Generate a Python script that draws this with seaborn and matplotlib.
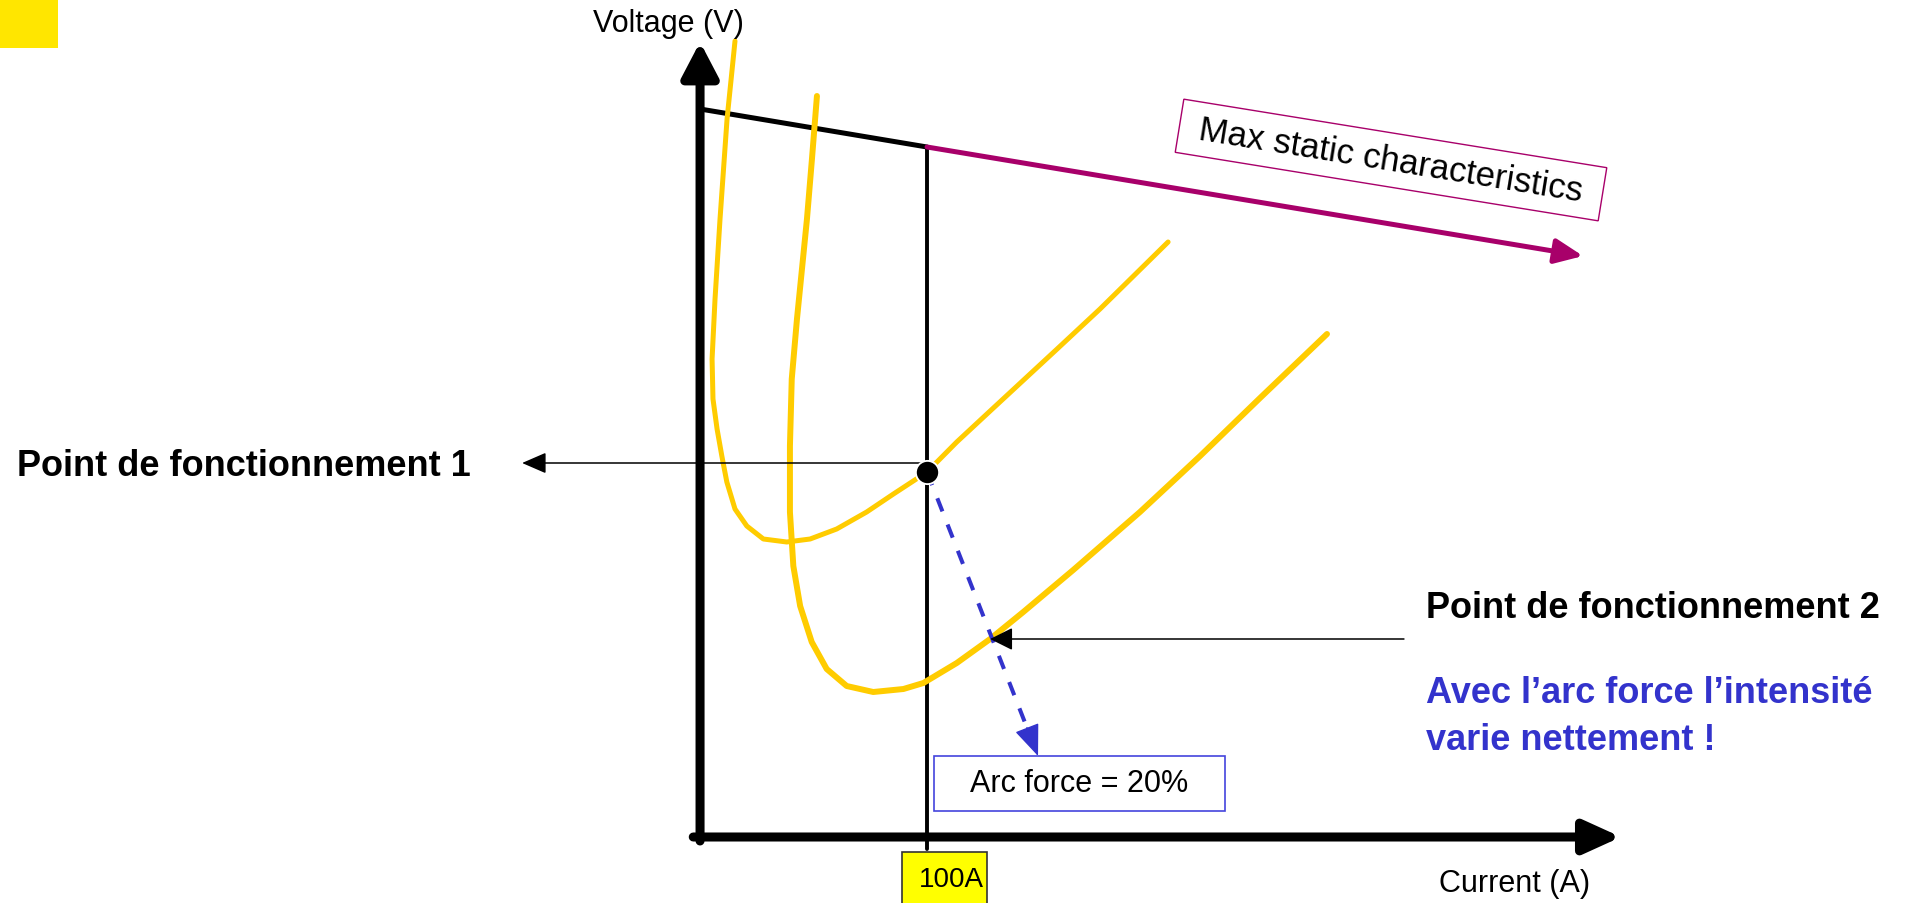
import numpy as np
import pandas as pd
import seaborn as sns
import matplotlib.pyplot as plt
from matplotlib.patches import Rectangle

# welding source characteristic (current in A, voltage in V)
curve1_current = [15.4, 13.7, 11.9, 8.8, 6.6, 5.3, 5.7, 7.5, 9.6, 11.8, 15.4, 20.6, 27.9, 38.2,
                  48.5, 60.2, 73.4, 85.2, 100.0, 113.1, 127.8, 145.4, 157.3, 176.2, 206.2]
curve1_voltage = [79.6, 75.8, 71.8, 61.8, 53.8, 47.8, 43.8, 40.8, 38.1, 35.5, 32.8, 31.1, 29.8,
                  29.5, 29.8, 30.8, 32.5, 34.3, 36.5, 39.5, 42.6, 46.3, 48.8, 52.8, 59.5]

curve2_current = [51.5, 49.3, 47.1, 42.7, 40.4, 39.6, 39.6, 41.1, 44.1, 49.2, 55.8, 64.6,
                  76.3, 89.6, 98.4, 113.1, 127.8, 142.4, 164.4, 193.8, 220.3, 246.7, 276.2]
curve2_voltage = [74.1, 67.8, 61.8, 51.8, 45.8, 39.1, 32.5, 27.1, 23.1, 19.5, 16.8, 15.1,
                  14.5, 14.8, 15.4, 17.4, 19.8, 22.5, 26.7, 32.5, 38.1, 43.9, 50.3]

static_current = [0.0, 100.0, 389.0]
static_voltage = [72.8, 69.0, 58.1]

point1 = (100.0, 36.5)
point2 = (127.8, 19.8)
arc_target = (148.9, 8.1)
set_current = 100.0

yellow = '#FFCC00'
magenta = '#A8006A'
blue = '#3333CC'

sns.set_style('white')
plt.rcParams['font.family'] = ['Liberation Sans', 'DejaVu Sans']
plt.rcParams['text.color'] = 'black'

fig = plt.figure(figsize=(19.14, 9.04), dpi=100)
ax = fig.add_axes([0, 0, 1, 1])
ax.set_xlim(-308.4, 534.8)
ax.set_ylim(-6.6, 83.8)
ax.axis('off')

# corner marker
ax.add_patch(Rectangle((0, 1 - 49 / 904), 58 / 1914, 49 / 904, transform=ax.transAxes,
                       facecolor='#FFE600', edgecolor='none'))

# axes arrows
ax.annotate('', xy=(0, 79.5), xytext=(0, -0.4),
            arrowprops=dict(arrowstyle='-|>,head_length=21,head_width=11', mutation_scale=1,
                            color='black', lw=6.5, shrinkA=0, shrinkB=0))
ax.annotate('', xy=(405.7, 0), xytext=(-3, 0),
            arrowprops=dict(arrowstyle='-|>,head_length=22,head_width=10', mutation_scale=1,
                            color='black', lw=6.5, shrinkA=0, shrinkB=0))
ax.text(-14.1, 81.4, 'Voltage (V)', fontsize=22, ha='center', va='center')
ax.text(359, -4.6, 'Current (A)', fontsize=22, ha='center', va='center')

# set current line
sns.lineplot(x=[set_current, set_current], y=[static_voltage[1], -1.2], estimator=None,
             color='black', linewidth=2.8, ax=ax)
ax.add_patch(Rectangle((89, -7), 37.4, 5.5, facecolor='#FFFF00', edgecolor='#333333',
                       lw=1.2, zorder=3))
ax.text(110.6, -4.2, '100A', fontsize=20, ha='center', va='center', zorder=4)

# max static characteristic
sns.lineplot(x=static_current[:2], y=static_voltage[:2], estimator=None, color='black',
             linewidth=3.6, ax=ax)
ax.annotate('', xy=(static_current[2], static_voltage[2]),
            xytext=(static_current[1], static_voltage[1]),
            arrowprops=dict(arrowstyle='-|>,head_length=17,head_width=7.5', mutation_scale=1,
                            color=magenta, lw=3.6, shrinkA=0, shrinkB=0))
ax.text(304.4, 67.7, ' Max static characteristics ', fontsize=25, rotation=-9.2,
        rotation_mode='anchor', ha='center', va='center',
        bbox=dict(boxstyle='square,pad=0.3', facecolor='white', edgecolor=magenta, lw=1.0))

# arc characteristics
sns.lineplot(x=curve1_current, y=curve1_voltage, sort=False, estimator=None, color=yellow,
             linewidth=3.6, ax=ax, solid_joinstyle='round')
sns.lineplot(x=curve2_current, y=curve2_voltage, sort=False, estimator=None, color=yellow,
             linewidth=4.3, ax=ax, solid_joinstyle='round')

# operating point 1
sns.scatterplot(x=[point1[0]], y=[point1[1]], color='black', s=280, ax=ax, zorder=5)
ax.annotate('', xy=(-78.4, 37.4), xytext=(point1[0], 37.4),
            arrowprops=dict(arrowstyle='-|>,head_length=15,head_width=6.5', mutation_scale=1,
                            color='black', lw=1.1, shrinkA=0, shrinkB=0))
ax.text(-300.9, 37.1, 'Point de fonctionnement 1', fontsize=26, fontweight='bold',
        ha='left', va='center')

# operating point 2
ax.annotate('', xy=point2, xytext=(310.1, point2[1]),
            arrowprops=dict(arrowstyle='-|>,head_length=14,head_width=7', mutation_scale=1,
                            color='black', lw=1.1, shrinkA=0, shrinkB=0))
ax.text(319.8, 22.9, 'Point de fonctionnement 2', fontsize=26, fontweight='bold',
        ha='left', va='center')
ax.text(319.8, 16.2, 'Avec l\u2019arc force l\u2019intensit\u00e9\nvarie nettement !',
        fontsize=26, fontweight='bold', color=blue, ha='left', va='top', linespacing=1.45)

# arc force shift
sns.lineplot(x=[point1[0], arc_target[0]], y=[point1[1], arc_target[1]], estimator=None,
             color=blue, linewidth=2.9, linestyle=(0, (3.5, 3.5)), ax=ax)
head_start = (arc_target[0] - 0.1 * (arc_target[0] - point1[0]),
              arc_target[1] - 0.1 * (arc_target[1] - point1[1]))
ax.annotate('', xy=arc_target, xytext=head_start,
            arrowprops=dict(arrowstyle='-|>,head_length=20,head_width=8', mutation_scale=1,
                            color=blue, lw=1, shrinkA=0, shrinkB=0))
ax.add_patch(Rectangle((103.1, 2.6), 128.2, 5.5, facecolor='white', edgecolor='#4444DD', lw=1.2))
ax.text(167.2, 5.35, 'Arc force = 20%', fontsize=22, ha='center', va='center')

fig.savefig('out.png', dpi=100)
